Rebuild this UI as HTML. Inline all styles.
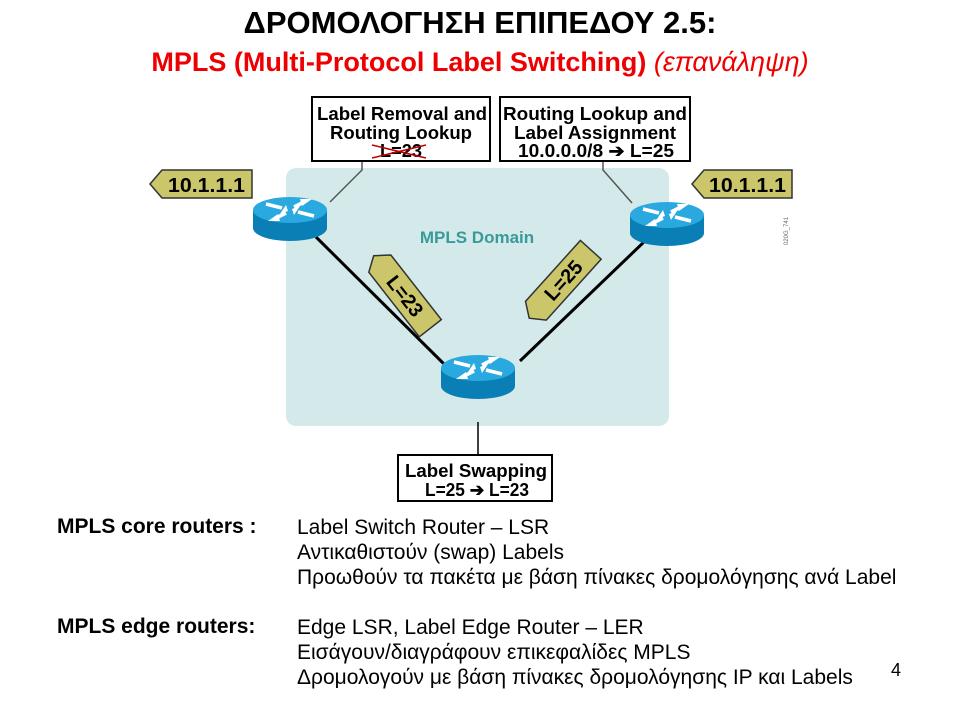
<!DOCTYPE html>
<html><head><meta charset="utf-8"><style>
body{margin:0;width:960px;height:720px;background:#fff;overflow:hidden;font-family:"Liberation Sans",sans-serif;}
svg{position:absolute;left:0;top:0}
.t{position:absolute;white-space:nowrap}
</style></head><body>
<svg width="960" height="720" viewBox="0 0 960 720">
<defs>
<g id="rt">
<path d="M-37,0 L-37,18 A37,13 0 0 0 37,18 L37,0 Z" fill="#0a7fb5"/>
<ellipse cx="0" cy="0" rx="37" ry="13" fill="#2aa9e0"/>
<g stroke="#fff" stroke-width="3.5" fill="#fff" stroke-linecap="butt">
<line x1="-24" y1="-6" x2="-8" y2="-2"/>
<line x1="24" y1="6" x2="8" y2="2"/>
<line x1="-4" y1="3" x2="-14" y2="8"/>
<line x1="4" y1="-3" x2="14" y2="-8"/>
</g>
<g fill="#fff">
<path d="M-4,-5 L-10,4 L-2,1 Z"/>
<path d="M4,5 L10,-4 L2,-1 Z"/>
<path d="M-22,11 L-12,4 L-10,11 Z"/>
<path d="M22,-11 L12,-4 L10,-11 Z"/>
</g>
</g>
</defs>
<rect x="286" y="168" width="383" height="258" rx="10" fill="#d4eaea"/>
<text x="477" y="243" font-size="17" font-weight="bold" fill="#3a9a9a" text-anchor="middle" font-family="Liberation Sans">MPLS Domain</text>
<polyline points="362,161 362,170 330,202" fill="none" stroke="#555" stroke-width="1.5"/>
<polyline points="603,161 603,170 632,203" fill="none" stroke="#555" stroke-width="1.5"/>
<line x1="316" y1="237" x2="447" y2="367" stroke="#000" stroke-width="3"/>
<line x1="646" y1="240" x2="520" y2="361" stroke="#000" stroke-width="3"/>
<line x1="478" y1="422" x2="478" y2="456" stroke="#000" stroke-width="1.5"/>
<use href="#rt" x="290" y="210"/>
<use href="#rt" x="667" y="215"/>
<use href="#rt" x="478" y="368"/>
<rect x="312" y="97" width="178" height="64" fill="#fff" stroke="#000" stroke-width="2"/>
<g font-size="18" font-weight="bold" font-family="Liberation Sans">
<text x="317" y="120" textLength="170" lengthAdjust="spacingAndGlyphs">Label Removal and</text>
<text x="330" y="139" textLength="142" lengthAdjust="spacingAndGlyphs">Routing Lookup</text>
<text x="380" y="157" textLength="42" lengthAdjust="spacingAndGlyphs">L=23</text>
</g>
<line x1="372" y1="145" x2="426" y2="158" stroke="#b00" stroke-width="1.5"/>
<line x1="372" y1="158" x2="426" y2="145" stroke="#b00" stroke-width="1.5"/>
<rect x="500" y="97" width="190" height="64" fill="#fff" stroke="#000" stroke-width="2"/>
<g font-size="18" font-weight="bold" font-family="Liberation Sans">
<text x="503" y="120" textLength="184" lengthAdjust="spacingAndGlyphs">Routing Lookup and</text>
<text x="514" y="139" textLength="162" lengthAdjust="spacingAndGlyphs">Label Assignment</text>
<text x="518" y="157" textLength="156" lengthAdjust="spacingAndGlyphs">10.0.0.0/8 ➔ L=25</text>
</g>
<rect x="398" y="455" width="154" height="46" fill="#fff" stroke="#000" stroke-width="2"/>
<g font-size="18" font-weight="bold" font-family="Liberation Sans">
<text x="405" y="477" textLength="142" lengthAdjust="spacingAndGlyphs">Label Swapping</text>
<text x="425" y="496" textLength="104" lengthAdjust="spacingAndGlyphs">L=25 ➔ L=23</text>
</g>
<polygon points="150,184 162,170 252,170 252,198 162,198" fill="#cbc66a" stroke="#333" stroke-width="1.5"/>
<text x="168" y="192" font-size="20" font-weight="bold" textLength="77" lengthAdjust="spacingAndGlyphs" font-family="Liberation Sans">10.1.1.1</text>
<polygon points="692,184 704,170 792,170 792,198 704,198" fill="#cbc66a" stroke="#333" stroke-width="1.5"/>
<text x="709" y="192" font-size="20" font-weight="bold" textLength="77" lengthAdjust="spacingAndGlyphs" font-family="Liberation Sans">10.1.1.1</text>
<g transform="translate(402,292) rotate(52)">
<polygon points="-46,0 -36,-14 46,-14 46,14 -36,14" fill="#cbc66a" stroke="#333" stroke-width="1.5"/>
<text x="5" y="7" font-size="20" font-weight="bold" text-anchor="middle" font-family="Liberation Sans">L=23</text>
</g>
<g transform="translate(560,284) rotate(-48)">
<polygon points="-46,0 -36,-14 46,-14 46,14 -36,14" fill="#cbc66a" stroke="#333" stroke-width="1.5"/>
<text x="5" y="7" font-size="20" font-weight="bold" text-anchor="middle" font-family="Liberation Sans">L=25</text>
</g>
<text x="788" y="245" font-size="6" fill="#666" transform="rotate(-90 788 245)">020G_741</text>
</svg>
<div class="t" style="left:0;width:960px;text-align:center;top:5px;font-size:31px;font-weight:bold">ΔΡΟΜΟΛΟΓΗΣΗ ΕΠΙΠΕΔΟΥ 2.5:</div>
<div class="t" style="left:0;width:960px;text-align:center;top:47px;font-size:27px;font-weight:bold;color:#e00">MPLS (Multi-Protocol Label Switching) <span style="font-weight:normal;font-style:italic">(επανάληψη)</span></div>
<div class="t" style="left:57px;top:515px;font-size:21px;font-weight:bold">MPLS core routers :</div>
<div class="t" style="left:297px;top:515px;font-size:21px;line-height:25px">Label Switch Router – LSR<br>Αντικαθιστούν (swap) Labels<br>Προωθούν τα πακέτα με βάση πίνακες δρομολόγησης ανά Label</div>
<div class="t" style="left:57px;top:615px;font-size:21px;font-weight:bold">MPLS edge routers:</div>
<div class="t" style="left:297px;top:615px;font-size:21px;line-height:25px">Edge LSR, Label Edge Router – LER<br>Εισάγουν/διαγράφουν επικεφαλίδες MPLS<br>Δρομολογούν με βάση πίνακες δρομολόγησης IP και Labels</div>
<div class="t" style="left:891px;top:660px;font-size:18px">4</div>
</body></html>
